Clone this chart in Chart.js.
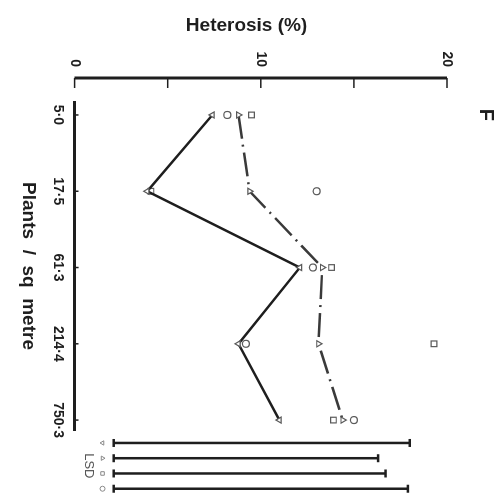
<!DOCTYPE html>
<html>
<head>
<meta charset="utf-8">
<script src="https://cdn.jsdelivr.net/npm/chart.js@4.4.1/dist/chart.umd.min.js"></script>
<style>
    html, body { margin: 0; padding: 0; overflow: hidden; background: #fff; }
    /* the figure is printed on its side: draw it upright, then turn it a quarter clockwise */
    #wrap {
        position: absolute; left: 0; top: 0;
        width: 497px; height: 500px;
        transform-origin: 0 0;
        transform: translate(500px, 0) rotate(90deg);
    }
</style>
</head>
<body>
<div id="wrap"><canvas id="heterosis-chart"></canvas></div>
<script>
// Plant density (plants / sq metre)
const densities = ['5·0', '17·5', '61·3', '214·4', '750·3'];

// Heterosis (%) for the four hybrids
const heterosisDown = [7.4, 3.9, 12.1, 8.8, 11.0];     // ▽, solid line
const heterosisUp = [8.8, 9.4, 13.3, 13.1, 14.4];      // △, dash-dot line
const heterosisSquare = [9.5, 4.1, 13.8, 19.3, 13.9];  // □
const heterosisCircle = [8.2, 13.0, 12.8, 9.2, 15.0];  // ○

// Least significant differences, same order
const lsdValues = [15.9, 14.2, 14.6, 15.8];
const lsdBase = 2.1;

const heterosisTicks = [0, 10, 20];

const ink = '#1e1e1e';
const markerInk = '#5a5a5a';
const lsdStyles = ['triangle', 'triangle', 'rect', 'circle'];
const lsdRotation = [180, 0, 0, 0];

Chart.defaults.font.family = '"Liberation Sans", Arial, sans-serif';
Chart.defaults.color = ink;

const toPoints = (values) => values.map((y, i) => ({ x: i, y }));
const lsdSlot = (i) => densities.length - 1 + 0.3 + i * 0.2;

function markerSet(values, style, rotation, radius) {
    return {
        data: toPoints(values),
        showLine: false,
        pointStyle: style,
        pointRotation: rotation,
        pointRadius: radius,
        pointBorderWidth: 1.2,
        pointBorderColor: markerInk,
        pointBackgroundColor: '#fff',
        clip: false
    };
}

// LSD bars sit past the last density, outside the plot area
const lsdBars = lsdValues.map((v, i) => ({
    data: [{ x: lsdSlot(i), y: lsdBase }, { x: lsdSlot(i), y: lsdBase + v }],
    showLine: true,
    borderColor: ink,
    borderWidth: 2.5,
    pointRadius: 0,
    clip: false
}));

function drawMark(ctx, opts, px, py) {
    if (Chart.helpers && Chart.helpers.drawPoint) {
        Chart.helpers.drawPoint(ctx, opts, px, py);
    }
}

// axis furniture the figure draws its own way: value axis set apart, ticks pointing inwards
const axisDecor = {
    id: 'axisDecor',
    beforeDatasetsDraw(chart) {
        const { ctx, chartArea, scales: { x, y } } = chart;
        const ax = chartArea.left - 24;
        ctx.save();
        ctx.strokeStyle = ink;
        ctx.lineWidth = 3;
        ctx.beginPath();
        ctx.moveTo(ax, y.getPixelForValue(y.min));
        ctx.lineTo(ax, y.getPixelForValue(y.max));
        ctx.stroke();
        ctx.lineWidth = 1.5;
        y.ticks.forEach((t) => {
            const py = y.getPixelForValue(t.value);
            ctx.beginPath();
            ctx.moveTo(ax, py);
            ctx.lineTo(ax + 10, py);
            ctx.stroke();
        });
        densities.forEach((_, i) => {
            const px = x.getPixelForValue(i);
            ctx.beginPath();
            ctx.moveTo(px, chartArea.bottom);
            ctx.lineTo(px, chartArea.bottom - 4);
            ctx.stroke();
        });
        ctx.restore();
    },
    afterDatasetsDraw(chart) {
        const { ctx, scales: { x, y } } = chart;
        ctx.save();
        // end caps of the LSD bars
        ctx.strokeStyle = ink;
        ctx.lineWidth = 2.5;
        lsdValues.forEach((v, i) => {
            const px = x.getPixelForValue(lsdSlot(i));
            [lsdBase, lsdBase + v].forEach((end) => {
                drawMark(ctx, { pointStyle: 'line', rotation: 0, radius: 4, borderWidth: 2.5 }, px, y.getPixelForValue(end));
            });
        });
        // key symbols under the bars
        ctx.strokeStyle = '#888';
        ctx.fillStyle = '#fff';
        ctx.lineWidth = 1;
        lsdStyles.forEach((style, i) => {
            drawMark(ctx, { pointStyle: style, rotation: lsdRotation[i], radius: 2.5, borderWidth: 1 },
                x.getPixelForValue(lsdSlot(i)), y.getPixelForValue(1.5));
        });
        ctx.restore();
    },
    afterDraw(chart) {
        const { ctx, chartArea, scales: { x, y } } = chart;
        ctx.save();
        ctx.fillStyle = ink;
        ctx.textAlign = 'center';
        ctx.textBaseline = 'middle';
        ctx.font = 'bold 20px "Liberation Sans", Arial, sans-serif';
        ctx.fillText('F', x.getPixelForValue(0), chartArea.top - 39);
        ctx.font = '13px "Liberation Sans", Arial, sans-serif';
        ctx.fillStyle = '#555';
        ctx.fillText('LSD', x.getPixelForValue((lsdSlot(0) + lsdSlot(3)) / 2), y.getPixelForValue(0.75));
        ctx.restore();
    }
};

new Chart(document.getElementById('heterosis-chart'), {
    type: 'scatter',
    data: {
        datasets: [
            {
                ...markerSet(heterosisDown, 'triangle', 180, 3.5),
                showLine: true,
                borderColor: ink,
                borderWidth: 2.5
            },
            {
                ...markerSet(heterosisUp, 'triangle', 0, 3.5),
                showLine: true,
                borderColor: '#3a3a3a',
                borderWidth: 2.5,
                borderDash: [24, 6, 2, 6]
            },
            markerSet(heterosisSquare, 'rect', 0, 4),
            markerSet(heterosisCircle, 'circle', 0, 3.5),
            ...lsdBars
        ]
    },
    options: {
        responsive: true,
        maintainAspectRatio: false,
        animation: false,
        layout: { padding: { left: 10, top: 53, right: 67, bottom: 17 } },
        plugins: {
            legend: { display: false },
            tooltip: { enabled: false }
        },
        scales: {
            x: {
                type: 'linear',
                min: -0.17,
                max: 4.13,
                afterBuildTicks: (axis) => {
                    axis.ticks = densities.map((_, i) => ({ value: i }));
                },
                ticks: {
                    padding: 8,
                    font: { size: 14, weight: 'bold' },
                    color: ink,
                    callback: (val) => densities[val]
                },
                grid: { display: false, drawTicks: false },
                border: { display: true, width: 3, color: ink },
                title: {
                    display: true,
                    text: 'Plants \u00a0/\u00a0 sq \u00a0metre',
                    font: { size: 19, weight: 'bold' },
                    color: ink,
                    padding: { top: 2, bottom: 0 }
                }
            },
            y: {
                min: 0,
                max: 20,
                afterFit: (scale) => { scale.width = 92; },
                ticks: {
                    stepSize: 5,
                    padding: 35,
                    font: { size: 14, weight: 'bold' },
                    color: ink,
                    callback: (val) => heterosisTicks.includes(val) ? val : ''
                },
                grid: { display: false, drawTicks: false },
                border: { display: false },
                title: {
                    display: true,
                    text: 'Heterosis (%)\u2002\u2002\u2002',
                    font: { size: 19, weight: 'bold' },
                    color: ink,
                    padding: { top: 4, bottom: 4 }
                }
            }
        }
    },
    plugins: [axisDecor]
});
</script>
</body>
</html>
